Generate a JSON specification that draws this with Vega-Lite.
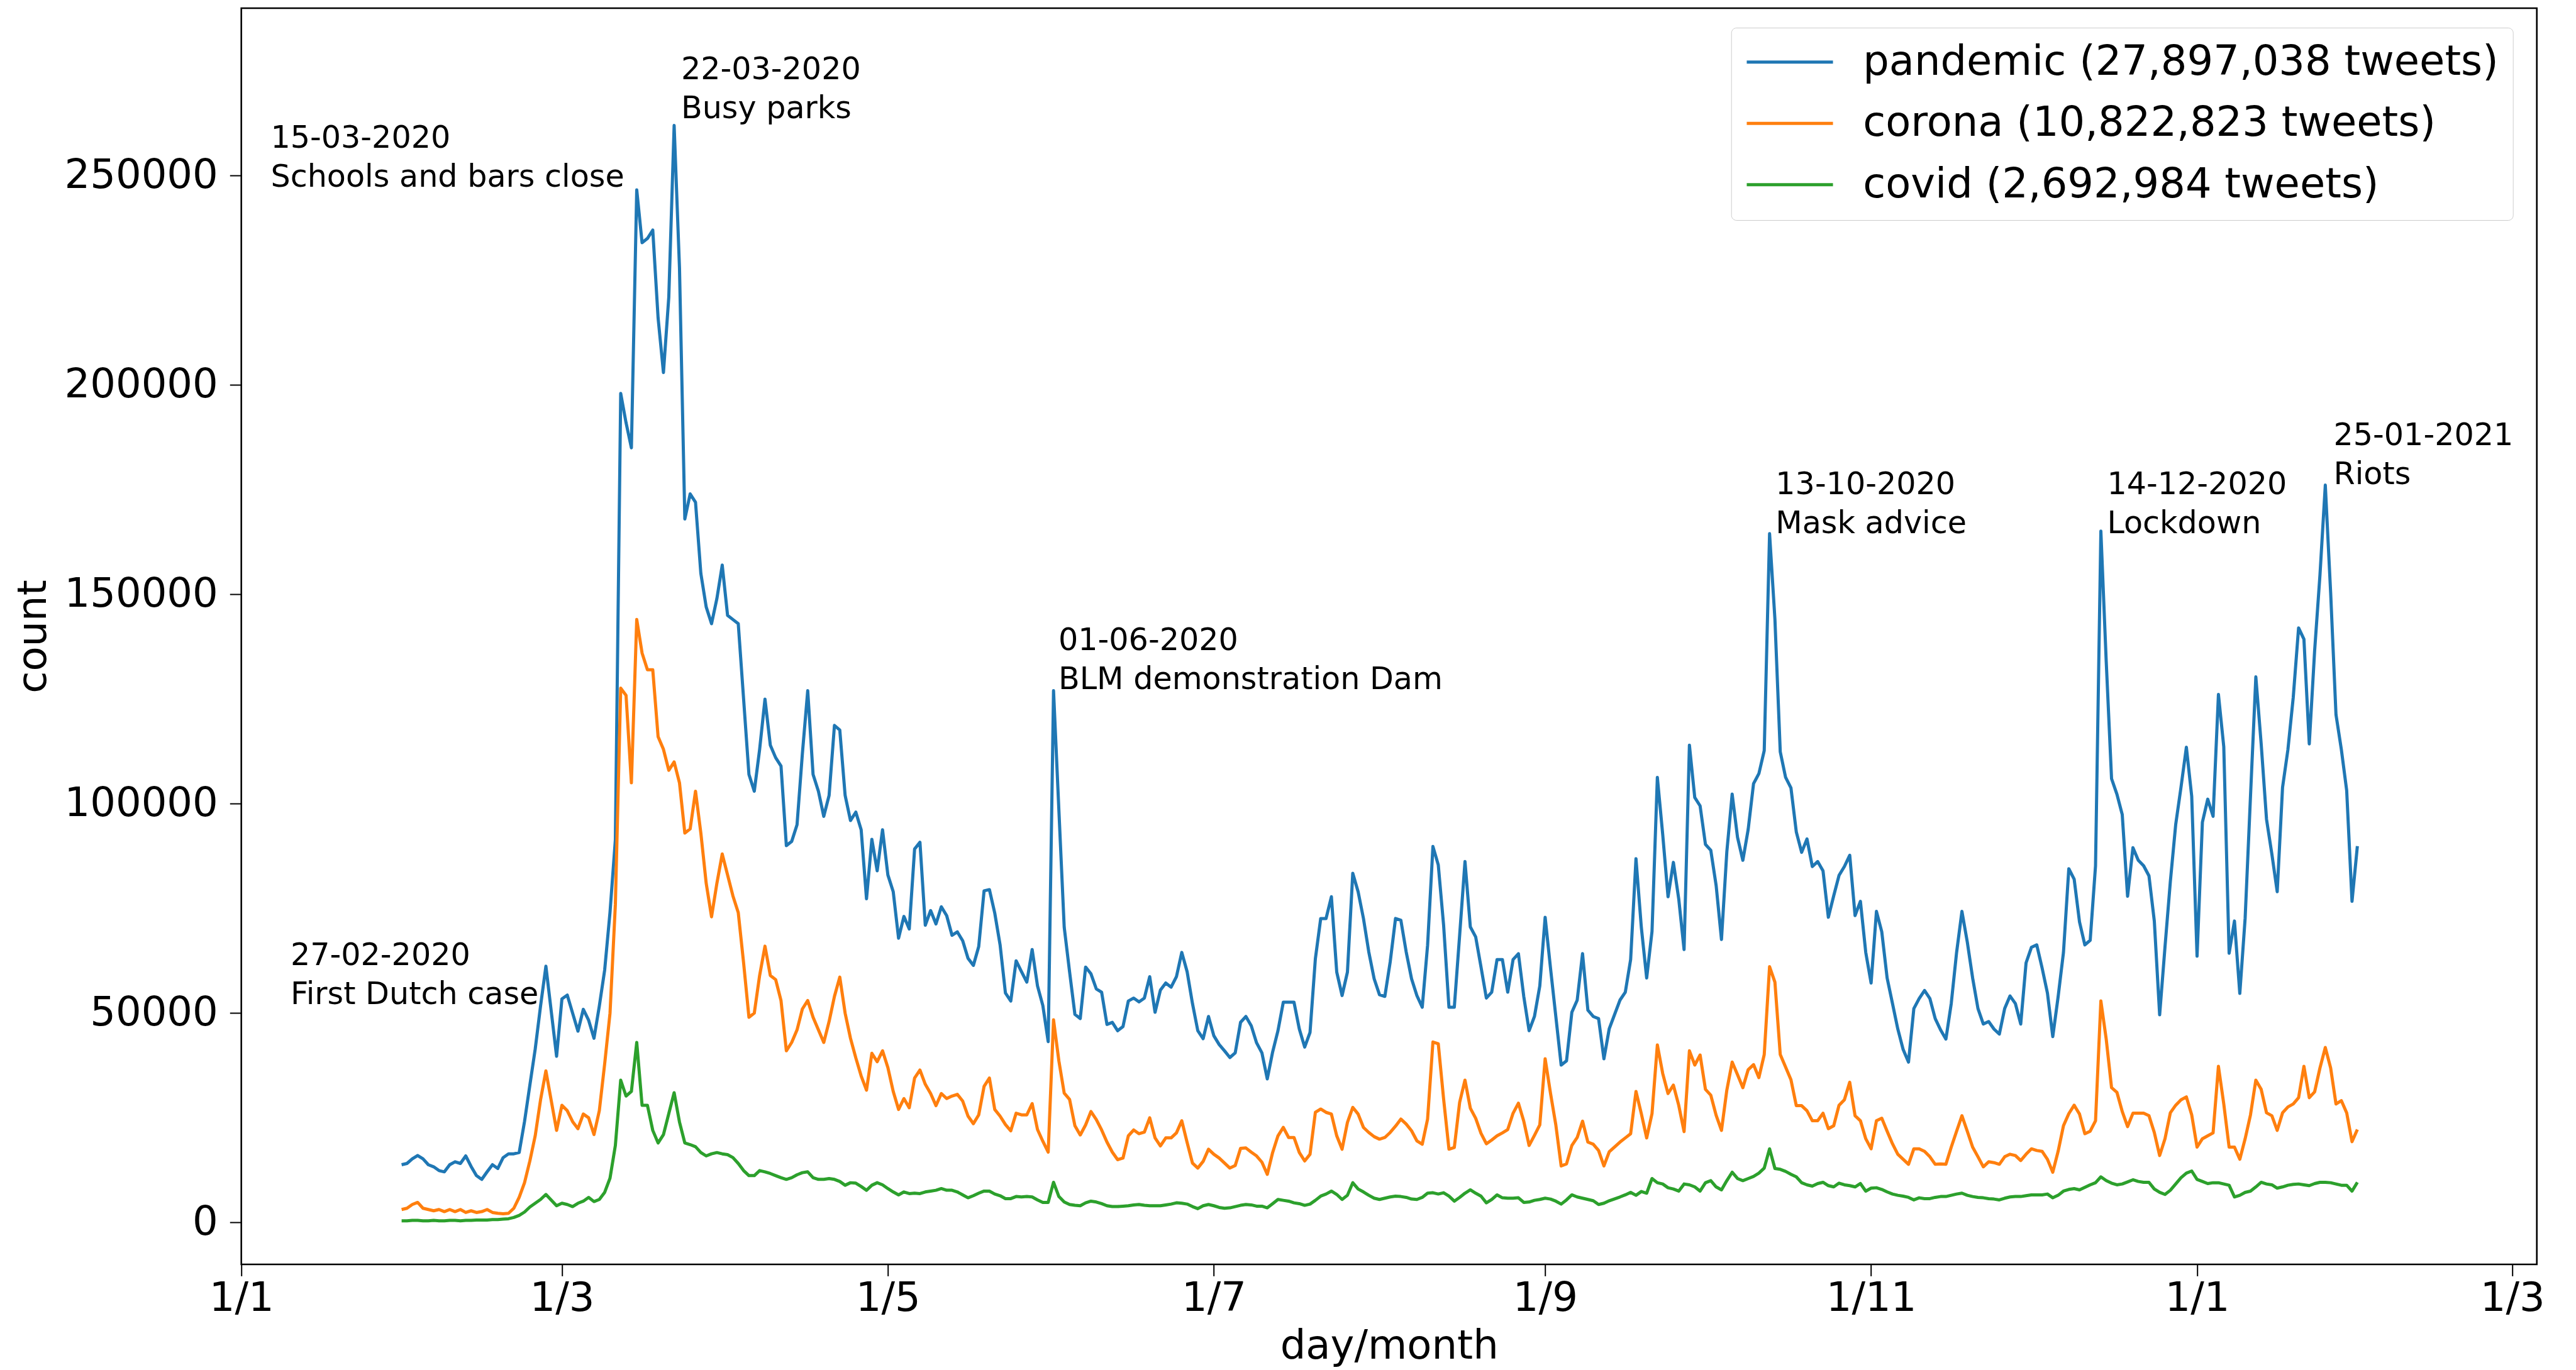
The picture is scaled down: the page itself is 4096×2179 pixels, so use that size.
{
"$schema": "https://vega.github.io/schema/vega-lite/v6.json",
"width": 3650,
"height": 1998,
"autosize": {"type": "none"},
"padding": {"left": 383.7, "top": 13, "right": 62.3, "bottom": 168},
"background": "white",
"config": {
  "view": {"stroke": "black", "strokeWidth": 2.6},
  "font": "DejaVu Sans",
  "axis": {"grid": false, "domain": false, "tickColor": "black", "tickWidth": 2, "tickSize": 18.4, "labelFont": "DejaVu Sans", "labelFontSize": 64, "labelColor": "black", "labelLimit": 2000, "titleFont": "DejaVu Sans", "titleFontSize": 64, "titleFontWeight": "normal", "titleColor": "black", "labelOverlap": false, "labelFlush": false, "labelBound": false}
},
"datasets": {
"tweets": [
{"date":"2020-01-31","pandemic":13800,"corona":3100,"covid":400},
{"date":"2020-02-01","pandemic":14100,"corona":3400,"covid":400},
{"date":"2020-02-02","pandemic":15200,"corona":4300,"covid":500},
{"date":"2020-02-03","pandemic":16000,"corona":4800,"covid":500},
{"date":"2020-02-04","pandemic":15200,"corona":3400,"covid":400},
{"date":"2020-02-05","pandemic":13800,"corona":3100,"covid":400},
{"date":"2020-02-06","pandemic":13300,"corona":2800,"covid":500},
{"date":"2020-02-07","pandemic":12400,"corona":3100,"covid":400},
{"date":"2020-02-08","pandemic":12100,"corona":2600,"covid":400},
{"date":"2020-02-09","pandemic":13800,"corona":3100,"covid":500},
{"date":"2020-02-10","pandemic":14500,"corona":2600,"covid":500},
{"date":"2020-02-11","pandemic":14100,"corona":3100,"covid":400},
{"date":"2020-02-12","pandemic":15900,"corona":2400,"covid":500},
{"date":"2020-02-13","pandemic":13400,"corona":2800,"covid":500},
{"date":"2020-02-14","pandemic":11200,"corona":2400,"covid":600},
{"date":"2020-02-15","pandemic":10300,"corona":2600,"covid":600},
{"date":"2020-02-16","pandemic":12100,"corona":3100,"covid":600},
{"date":"2020-02-17","pandemic":13800,"corona":2400,"covid":700},
{"date":"2020-02-18","pandemic":12900,"corona":2200,"covid":700},
{"date":"2020-02-19","pandemic":15500,"corona":2100,"covid":800},
{"date":"2020-02-20","pandemic":16400,"corona":2200,"covid":900},
{"date":"2020-02-21","pandemic":16400,"corona":3400,"covid":1200},
{"date":"2020-02-22","pandemic":16700,"corona":6000,"covid":1700},
{"date":"2020-02-23","pandemic":24100,"corona":9500,"covid":2500},
{"date":"2020-02-24","pandemic":32800,"corona":14700,"covid":3700},
{"date":"2020-02-25","pandemic":41400,"corona":20700,"covid":4600},
{"date":"2020-02-26","pandemic":51700,"corona":29300,"covid":5500},
{"date":"2020-02-27","pandemic":61200,"corona":36200,"covid":6700},
{"date":"2020-02-29","pandemic":39700,"corona":22000,"covid":4000},
{"date":"2020-03-01","pandemic":53400,"corona":28000,"covid":4600},
{"date":"2020-03-02","pandemic":54300,"corona":26700,"covid":4300},
{"date":"2020-03-03","pandemic":50000,"corona":24100,"covid":3800},
{"date":"2020-03-04","pandemic":45700,"corona":22400,"covid":4600},
{"date":"2020-03-05","pandemic":50900,"corona":25900,"covid":5100},
{"date":"2020-03-06","pandemic":48300,"corona":25000,"covid":6000},
{"date":"2020-03-07","pandemic":44000,"corona":21000,"covid":5000},
{"date":"2020-03-08","pandemic":51700,"corona":26700,"covid":5500},
{"date":"2020-03-09","pandemic":60300,"corona":37900,"covid":7200},
{"date":"2020-03-10","pandemic":74100,"corona":50000,"covid":10600},
{"date":"2020-03-11","pandemic":91400,"corona":75900,"covid":18400},
{"date":"2020-03-12","pandemic":198000,"corona":127600,"covid":34000},
{"date":"2020-03-13","pandemic":191000,"corona":125900,"covid":30200},
{"date":"2020-03-14","pandemic":185000,"corona":105000,"covid":31300},
{"date":"2020-03-15","pandemic":246600,"corona":144000,"covid":43000},
{"date":"2020-03-16","pandemic":234000,"corona":136000,"covid":28000},
{"date":"2020-03-17","pandemic":235000,"corona":132000,"covid":28000},
{"date":"2020-03-18","pandemic":237000,"corona":132000,"covid":22000},
{"date":"2020-03-19","pandemic":216000,"corona":116000,"covid":19000},
{"date":"2020-03-20","pandemic":203000,"corona":113000,"covid":21000},
{"date":"2020-03-21","pandemic":221000,"corona":108000,"covid":26000},
{"date":"2020-03-22","pandemic":262000,"corona":110000,"covid":31000},
{"date":"2020-03-23","pandemic":228000,"corona":105000,"covid":24000},
{"date":"2020-03-24","pandemic":168000,"corona":93000,"covid":19000},
{"date":"2020-03-25","pandemic":174000,"corona":94000,"covid":18600},
{"date":"2020-03-26","pandemic":172000,"corona":103000,"covid":18100},
{"date":"2020-03-27","pandemic":155000,"corona":93000,"covid":16700},
{"date":"2020-03-28","pandemic":147000,"corona":81000,"covid":15900},
{"date":"2020-03-29","pandemic":143000,"corona":73000,"covid":16400},
{"date":"2020-03-30","pandemic":149000,"corona":81000,"covid":16700},
{"date":"2020-03-31","pandemic":157000,"corona":88000,"covid":16400},
{"date":"2020-04-01","pandemic":145000,"corona":83000,"covid":16200},
{"date":"2020-04-02","pandemic":144000,"corona":78000,"covid":15500},
{"date":"2020-04-03","pandemic":143000,"corona":74000,"covid":14100},
{"date":"2020-04-04","pandemic":125000,"corona":62000,"covid":12400},
{"date":"2020-04-05","pandemic":107000,"corona":49000,"covid":11200},
{"date":"2020-04-06","pandemic":103000,"corona":50000,"covid":11200},
{"date":"2020-04-07","pandemic":113000,"corona":59000,"covid":12400},
{"date":"2020-04-08","pandemic":125000,"corona":66000,"covid":12100},
{"date":"2020-04-09","pandemic":114000,"corona":59000,"covid":11700},
{"date":"2020-04-10","pandemic":111000,"corona":58000,"covid":11200},
{"date":"2020-04-11","pandemic":109000,"corona":53000,"covid":10700},
{"date":"2020-04-12","pandemic":90000,"corona":41000,"covid":10300},
{"date":"2020-04-13","pandemic":91000,"corona":43000,"covid":10700},
{"date":"2020-04-14","pandemic":95000,"corona":46000,"covid":11400},
{"date":"2020-04-15","pandemic":112000,"corona":51000,"covid":11900},
{"date":"2020-04-16","pandemic":127000,"corona":53000,"covid":12100},
{"date":"2020-04-17","pandemic":107000,"corona":49000,"covid":10700},
{"date":"2020-04-18","pandemic":103000,"corona":46000,"covid":10300},
{"date":"2020-04-19","pandemic":97000,"corona":43000,"covid":10300},
{"date":"2020-04-20","pandemic":102000,"corona":48000,"covid":10500},
{"date":"2020-04-21","pandemic":118700,"corona":54000,"covid":10300},
{"date":"2020-04-22","pandemic":117600,"corona":58600,"covid":9800},
{"date":"2020-04-23","pandemic":102000,"corona":50000,"covid":8900},
{"date":"2020-04-24","pandemic":96000,"corona":44000,"covid":9500},
{"date":"2020-04-25","pandemic":98000,"corona":39300,"covid":9400},
{"date":"2020-04-26","pandemic":93800,"corona":35000,"covid":8600},
{"date":"2020-04-27","pandemic":77300,"corona":31600,"covid":7700},
{"date":"2020-04-28","pandemic":91500,"corona":40400,"covid":8900},
{"date":"2020-04-29","pandemic":84000,"corona":38400,"covid":9500},
{"date":"2020-04-30","pandemic":93800,"corona":41000,"covid":9000},
{"date":"2020-05-01","pandemic":83000,"corona":37000,"covid":8100},
{"date":"2020-05-02","pandemic":79000,"corona":31300,"covid":7300},
{"date":"2020-05-03","pandemic":67900,"corona":27000,"covid":6600},
{"date":"2020-05-04","pandemic":73100,"corona":29600,"covid":7300},
{"date":"2020-05-05","pandemic":70100,"corona":27400,"covid":6900},
{"date":"2020-05-06","pandemic":89200,"corona":34500,"covid":7000},
{"date":"2020-05-07","pandemic":90800,"corona":36400,"covid":6900},
{"date":"2020-05-08","pandemic":71000,"corona":33000,"covid":7300},
{"date":"2020-05-09","pandemic":74500,"corona":30800,"covid":7500},
{"date":"2020-05-10","pandemic":71300,"corona":27900,"covid":7700},
{"date":"2020-05-11","pandemic":75400,"corona":30800,"covid":8100},
{"date":"2020-05-12","pandemic":73300,"corona":29600,"covid":7700},
{"date":"2020-05-13","pandemic":68600,"corona":30200,"covid":7700},
{"date":"2020-05-14","pandemic":69400,"corona":30600,"covid":7300},
{"date":"2020-05-15","pandemic":67300,"corona":29000,"covid":6600},
{"date":"2020-05-16","pandemic":63100,"corona":25400,"covid":5900},
{"date":"2020-05-17","pandemic":61400,"corona":23600,"covid":6400},
{"date":"2020-05-18","pandemic":65900,"corona":25700,"covid":7000},
{"date":"2020-05-19","pandemic":79200,"corona":32500,"covid":7500},
{"date":"2020-05-20","pandemic":79500,"corona":34500,"covid":7500},
{"date":"2020-05-21","pandemic":73900,"corona":27000,"covid":6800},
{"date":"2020-05-22","pandemic":66300,"corona":25400,"covid":6400},
{"date":"2020-05-23","pandemic":54800,"corona":23400,"covid":5700},
{"date":"2020-05-24","pandemic":52900,"corona":21900,"covid":5700},
{"date":"2020-05-25","pandemic":62500,"corona":26100,"covid":6200},
{"date":"2020-05-26","pandemic":59900,"corona":25700,"covid":6100},
{"date":"2020-05-27","pandemic":57400,"corona":25700,"covid":6200},
{"date":"2020-05-28","pandemic":65200,"corona":28400,"covid":6100},
{"date":"2020-05-29","pandemic":56500,"corona":22200,"covid":5400},
{"date":"2020-05-30","pandemic":51800,"corona":19400,"covid":4800},
{"date":"2020-05-31","pandemic":43200,"corona":16800,"covid":4800},
{"date":"2020-06-01","pandemic":127000,"corona":48400,"covid":9600},
{"date":"2020-06-02","pandemic":98500,"corona":38600,"covid":6200},
{"date":"2020-06-03","pandemic":70500,"corona":30900,"covid":4900},
{"date":"2020-06-04","pandemic":59900,"corona":29400,"covid":4300},
{"date":"2020-06-05","pandemic":49700,"corona":23100,"covid":4100},
{"date":"2020-06-06","pandemic":48700,"corona":20900,"covid":4000},
{"date":"2020-06-07","pandemic":61000,"corona":23300,"covid":4700},
{"date":"2020-06-08","pandemic":59400,"corona":26500,"covid":5100},
{"date":"2020-06-09","pandemic":55800,"corona":24600,"covid":4900},
{"date":"2020-06-10","pandemic":55000,"corona":22100,"covid":4500},
{"date":"2020-06-11","pandemic":47300,"corona":19200,"covid":4000},
{"date":"2020-06-12","pandemic":47800,"corona":16800,"covid":3800},
{"date":"2020-06-13","pandemic":45800,"corona":15000,"covid":3800},
{"date":"2020-06-14","pandemic":46800,"corona":15400,"covid":3900},
{"date":"2020-06-15","pandemic":52900,"corona":20700,"covid":4000},
{"date":"2020-06-16","pandemic":53600,"corona":22100,"covid":4200},
{"date":"2020-06-17","pandemic":52700,"corona":21200,"covid":4300},
{"date":"2020-06-18","pandemic":53600,"corona":21600,"covid":4100},
{"date":"2020-06-19","pandemic":58700,"corona":25000,"covid":4000},
{"date":"2020-06-20","pandemic":50200,"corona":20200,"covid":4000},
{"date":"2020-06-21","pandemic":55500,"corona":18300,"covid":4000},
{"date":"2020-06-22","pandemic":57200,"corona":20200,"covid":4200},
{"date":"2020-06-23","pandemic":56200,"corona":20200,"covid":4400},
{"date":"2020-06-24","pandemic":58700,"corona":21400,"covid":4700},
{"date":"2020-06-25","pandemic":64500,"corona":24300,"covid":4600},
{"date":"2020-06-26","pandemic":59900,"corona":19100,"covid":4400},
{"date":"2020-06-27","pandemic":52300,"corona":14200,"covid":3800},
{"date":"2020-06-28","pandemic":45800,"corona":13000,"covid":3300},
{"date":"2020-06-29","pandemic":43900,"corona":14600,"covid":4000},
{"date":"2020-06-30","pandemic":49200,"corona":17500,"covid":4300},
{"date":"2020-07-01","pandemic":44600,"corona":16300,"covid":4000},
{"date":"2020-07-02","pandemic":42500,"corona":15400,"covid":3600},
{"date":"2020-07-03","pandemic":41000,"corona":14200,"covid":3400},
{"date":"2020-07-04","pandemic":39400,"corona":13000,"covid":3500},
{"date":"2020-07-05","pandemic":40500,"corona":13600,"covid":3800},
{"date":"2020-07-06","pandemic":47800,"corona":17700,"covid":4100},
{"date":"2020-07-07","pandemic":49200,"corona":17800,"covid":4300},
{"date":"2020-07-08","pandemic":47000,"corona":16800,"covid":4200},
{"date":"2020-07-09","pandemic":42900,"corona":15900,"covid":3900},
{"date":"2020-07-10","pandemic":40500,"corona":14400,"covid":3900},
{"date":"2020-07-11","pandemic":34300,"corona":11500,"covid":3500},
{"date":"2020-07-12","pandemic":40700,"corona":16700,"covid":4500},
{"date":"2020-07-13","pandemic":45800,"corona":20700,"covid":5500},
{"date":"2020-07-14","pandemic":52600,"corona":22700,"covid":5300},
{"date":"2020-07-15","pandemic":52600,"corona":20300,"covid":5100},
{"date":"2020-07-16","pandemic":52600,"corona":20300,"covid":4700},
{"date":"2020-07-17","pandemic":46200,"corona":16700,"covid":4500},
{"date":"2020-07-18","pandemic":41900,"corona":14700,"covid":4100},
{"date":"2020-07-19","pandemic":45400,"corona":16300,"covid":4400},
{"date":"2020-07-20","pandemic":63000,"corona":26300,"covid":5300},
{"date":"2020-07-21","pandemic":72600,"corona":27100,"covid":6300},
{"date":"2020-07-22","pandemic":72600,"corona":26300,"covid":6800},
{"date":"2020-07-23","pandemic":77800,"corona":25900,"covid":7500},
{"date":"2020-07-24","pandemic":59800,"corona":20700,"covid":6700},
{"date":"2020-07-25","pandemic":54200,"corona":17500,"covid":5500},
{"date":"2020-07-26","pandemic":59800,"corona":23900,"covid":6500},
{"date":"2020-07-27","pandemic":83400,"corona":27500,"covid":9500},
{"date":"2020-07-28","pandemic":79000,"corona":25900,"covid":8000},
{"date":"2020-07-29","pandemic":72600,"corona":22700,"covid":7300},
{"date":"2020-07-30","pandemic":64600,"corona":21500,"covid":6500},
{"date":"2020-07-31","pandemic":58200,"corona":20500,"covid":5800},
{"date":"2020-08-01","pandemic":54400,"corona":19900,"covid":5500},
{"date":"2020-08-02","pandemic":54000,"corona":20300,"covid":5800},
{"date":"2020-08-03","pandemic":62200,"corona":21500,"covid":6100},
{"date":"2020-08-04","pandemic":72600,"corona":23000,"covid":6300},
{"date":"2020-08-05","pandemic":72200,"corona":24700,"covid":6200},
{"date":"2020-08-06","pandemic":64600,"corona":23500,"covid":6000},
{"date":"2020-08-07","pandemic":58200,"corona":21900,"covid":5600},
{"date":"2020-08-08","pandemic":54200,"corona":19500,"covid":5500},
{"date":"2020-08-09","pandemic":51400,"corona":18700,"covid":6000},
{"date":"2020-08-10","pandemic":66200,"corona":24700,"covid":7000},
{"date":"2020-08-11","pandemic":89800,"corona":43100,"covid":7100},
{"date":"2020-08-12","pandemic":85400,"corona":42700,"covid":6800},
{"date":"2020-08-13","pandemic":71000,"corona":29500,"covid":7100},
{"date":"2020-08-14","pandemic":51400,"corona":17500,"covid":6300},
{"date":"2020-08-15","pandemic":51400,"corona":17900,"covid":5100},
{"date":"2020-08-16","pandemic":68600,"corona":28700,"covid":6000},
{"date":"2020-08-17","pandemic":86200,"corona":34000,"covid":7000},
{"date":"2020-08-18","pandemic":70600,"corona":27300,"covid":7800},
{"date":"2020-08-19","pandemic":68200,"corona":24900,"covid":7000},
{"date":"2020-08-20","pandemic":61000,"corona":21300,"covid":6300},
{"date":"2020-08-21","pandemic":53600,"corona":18800,"covid":4700},
{"date":"2020-08-22","pandemic":55000,"corona":19700,"covid":5500},
{"date":"2020-08-23","pandemic":62800,"corona":20700,"covid":6600},
{"date":"2020-08-24","pandemic":62800,"corona":21400,"covid":5900},
{"date":"2020-08-25","pandemic":55000,"corona":22200,"covid":5800},
{"date":"2020-08-26","pandemic":62800,"corona":26100,"covid":5800},
{"date":"2020-08-27","pandemic":64200,"corona":28500,"covid":5900},
{"date":"2020-08-28","pandemic":54000,"corona":24200,"covid":4800},
{"date":"2020-08-29","pandemic":45800,"corona":18400,"covid":4900},
{"date":"2020-08-30","pandemic":49200,"corona":20800,"covid":5300},
{"date":"2020-08-31","pandemic":56500,"corona":23300,"covid":5500},
{"date":"2020-09-01","pandemic":72900,"corona":39100,"covid":5800},
{"date":"2020-09-02","pandemic":60800,"corona":30900,"covid":5600},
{"date":"2020-09-03","pandemic":49200,"corona":23300,"covid":5100},
{"date":"2020-09-04","pandemic":37600,"corona":13500,"covid":4400},
{"date":"2020-09-05","pandemic":38600,"corona":14000,"covid":5400},
{"date":"2020-09-06","pandemic":50200,"corona":18400,"covid":6600},
{"date":"2020-09-07","pandemic":53100,"corona":20300,"covid":6100},
{"date":"2020-09-08","pandemic":64200,"corona":24200,"covid":5800},
{"date":"2020-09-09","pandemic":50700,"corona":19200,"covid":5500},
{"date":"2020-09-10","pandemic":49200,"corona":18700,"covid":5200},
{"date":"2020-09-11","pandemic":48700,"corona":17200,"covid":4300},
{"date":"2020-09-12","pandemic":39100,"corona":13500,"covid":4600},
{"date":"2020-09-13","pandemic":46300,"corona":16900,"covid":5200},
{"date":"2020-09-15","pandemic":53100,"corona":19200,"covid":6100},
{"date":"2020-09-16","pandemic":55000,"corona":20200,"covid":6600},
{"date":"2020-09-17","pandemic":62800,"corona":21200,"covid":7200},
{"date":"2020-09-18","pandemic":86900,"corona":31300,"covid":6500},
{"date":"2020-09-19","pandemic":70500,"corona":26000,"covid":7400},
{"date":"2020-09-20","pandemic":58400,"corona":20200,"covid":7000},
{"date":"2020-09-21","pandemic":69500,"corona":26000,"covid":10500},
{"date":"2020-09-22","pandemic":106300,"corona":42400,"covid":9500},
{"date":"2020-09-23","pandemic":92700,"corona":35600,"covid":9200},
{"date":"2020-09-24","pandemic":77800,"corona":30800,"covid":8300},
{"date":"2020-09-25","pandemic":86000,"corona":32800,"covid":8000},
{"date":"2020-09-26","pandemic":77300,"corona":28000,"covid":7500},
{"date":"2020-09-27","pandemic":65200,"corona":21700,"covid":9200},
{"date":"2020-09-28","pandemic":114000,"corona":41000,"covid":9000},
{"date":"2020-09-29","pandemic":101500,"corona":37600,"covid":8500},
{"date":"2020-09-30","pandemic":99500,"corona":40000,"covid":7500},
{"date":"2020-10-01","pandemic":90300,"corona":31800,"covid":9500},
{"date":"2020-10-02","pandemic":88900,"corona":30400,"covid":10000},
{"date":"2020-10-03","pandemic":80500,"corona":25600,"covid":8500},
{"date":"2020-10-04","pandemic":67600,"corona":22000,"covid":7800},
{"date":"2020-10-05","pandemic":88500,"corona":31600,"covid":10000},
{"date":"2020-10-06","pandemic":102300,"corona":38300,"covid":12000},
{"date":"2020-10-07","pandemic":92000,"corona":35300,"covid":10500},
{"date":"2020-10-08","pandemic":86500,"corona":32200,"covid":10000},
{"date":"2020-10-09","pandemic":93900,"corona":36500,"covid":10500},
{"date":"2020-10-10","pandemic":104800,"corona":37700,"covid":11000},
{"date":"2020-10-11","pandemic":107200,"corona":34600,"covid":11800},
{"date":"2020-10-12","pandemic":112700,"corona":40100,"covid":13000},
{"date":"2020-10-13","pandemic":164500,"corona":61100,"covid":17600},
{"date":"2020-10-14","pandemic":144100,"corona":57400,"covid":12900},
{"date":"2020-10-15","pandemic":112400,"corona":40100,"covid":12700},
{"date":"2020-10-16","pandemic":106300,"corona":37100,"covid":12200},
{"date":"2020-10-17","pandemic":103800,"corona":34100,"covid":11500},
{"date":"2020-10-18","pandemic":93300,"corona":27900,"covid":10900},
{"date":"2020-10-19","pandemic":88400,"corona":27900,"covid":9500},
{"date":"2020-10-20","pandemic":91600,"corona":26700,"covid":9000},
{"date":"2020-10-21","pandemic":85000,"corona":24300,"covid":8700},
{"date":"2020-10-22","pandemic":86200,"corona":24300,"covid":9300},
{"date":"2020-10-23","pandemic":84000,"corona":26100,"covid":9600},
{"date":"2020-10-24","pandemic":72900,"corona":22400,"covid":8800},
{"date":"2020-10-25","pandemic":78000,"corona":23100,"covid":8500},
{"date":"2020-10-26","pandemic":82900,"corona":28000,"covid":9400},
{"date":"2020-10-27","pandemic":85000,"corona":29300,"covid":9000},
{"date":"2020-10-28","pandemic":87700,"corona":33500,"covid":8800},
{"date":"2020-10-29","pandemic":73300,"corona":25500,"covid":8500},
{"date":"2020-10-30","pandemic":76700,"corona":24300,"covid":9300},
{"date":"2020-10-31","pandemic":64500,"corona":20000,"covid":7500},
{"date":"2020-11-01","pandemic":57200,"corona":17600,"covid":8200},
{"date":"2020-11-02","pandemic":74300,"corona":24300,"covid":8300},
{"date":"2020-11-03","pandemic":69400,"corona":24900,"covid":7900},
{"date":"2020-11-04","pandemic":58400,"corona":21800,"covid":7300},
{"date":"2020-11-05","pandemic":52300,"corona":18800,"covid":6800},
{"date":"2020-11-06","pandemic":46200,"corona":16300,"covid":6500},
{"date":"2020-11-07","pandemic":41300,"corona":15100,"covid":6300},
{"date":"2020-11-08","pandemic":38300,"corona":13900,"covid":6000},
{"date":"2020-11-09","pandemic":51100,"corona":17600,"covid":5400},
{"date":"2020-11-10","pandemic":53500,"corona":17600,"covid":5900},
{"date":"2020-11-11","pandemic":55400,"corona":17000,"covid":5700},
{"date":"2020-11-12","pandemic":53500,"corona":15700,"covid":5700},
{"date":"2020-11-13","pandemic":48700,"corona":13900,"covid":6000},
{"date":"2020-11-14","pandemic":46000,"corona":14000,"covid":6200},
{"date":"2020-11-15","pandemic":43800,"corona":13900,"covid":6200},
{"date":"2020-11-16","pandemic":52300,"corona":18000,"covid":6500},
{"date":"2020-11-17","pandemic":64500,"corona":21800,"covid":6800},
{"date":"2020-11-18","pandemic":74300,"corona":25500,"covid":7000},
{"date":"2020-11-19","pandemic":67000,"corona":21800,"covid":6500},
{"date":"2020-11-20","pandemic":58400,"corona":18000,"covid":6200},
{"date":"2020-11-21","pandemic":51100,"corona":15700,"covid":6000},
{"date":"2020-11-22","pandemic":47400,"corona":13300,"covid":5900},
{"date":"2020-11-23","pandemic":48000,"corona":14500,"covid":5700},
{"date":"2020-11-24","pandemic":46200,"corona":14300,"covid":5600},
{"date":"2020-11-25","pandemic":45000,"corona":13900,"covid":5400},
{"date":"2020-11-26","pandemic":51100,"corona":15700,"covid":5800},
{"date":"2020-11-27","pandemic":54100,"corona":16300,"covid":6100},
{"date":"2020-11-28","pandemic":52300,"corona":16000,"covid":6200},
{"date":"2020-11-29","pandemic":47400,"corona":14800,"covid":6200},
{"date":"2020-11-30","pandemic":62000,"corona":16300,"covid":6400},
{"date":"2020-12-01","pandemic":65700,"corona":17600,"covid":6600},
{"date":"2020-12-02","pandemic":66300,"corona":17200,"covid":6600},
{"date":"2020-12-03","pandemic":60800,"corona":17000,"covid":6600},
{"date":"2020-12-04","pandemic":54800,"corona":15100,"covid":6800},
{"date":"2020-12-05","pandemic":44400,"corona":12000,"covid":5900},
{"date":"2020-12-06","pandemic":53900,"corona":17000,"covid":6500},
{"date":"2020-12-07","pandemic":64500,"corona":23100,"covid":7500},
{"date":"2020-12-08","pandemic":84500,"corona":26000,"covid":7900},
{"date":"2020-12-09","pandemic":82000,"corona":28000,"covid":8100},
{"date":"2020-12-10","pandemic":71800,"corona":25900,"covid":7800},
{"date":"2020-12-11","pandemic":66300,"corona":21200,"covid":8400},
{"date":"2020-12-12","pandemic":67400,"corona":21800,"covid":9000},
{"date":"2020-12-13","pandemic":85200,"corona":24300,"covid":9500},
{"date":"2020-12-14","pandemic":165100,"corona":52900,"covid":10900},
{"date":"2020-12-15","pandemic":134000,"corona":43800,"covid":10000},
{"date":"2020-12-16","pandemic":106000,"corona":32200,"covid":9400},
{"date":"2020-12-17","pandemic":102300,"corona":31100,"covid":9000},
{"date":"2020-12-18","pandemic":97400,"corona":26500,"covid":9200},
{"date":"2020-12-19","pandemic":77900,"corona":22900,"covid":9700},
{"date":"2020-12-20","pandemic":89500,"corona":26100,"covid":10200},
{"date":"2020-12-21","pandemic":86500,"corona":26100,"covid":9800},
{"date":"2020-12-22","pandemic":85200,"corona":26100,"covid":9600},
{"date":"2020-12-23","pandemic":82800,"corona":25500,"covid":9600},
{"date":"2020-12-24","pandemic":72000,"corona":21500,"covid":8000},
{"date":"2020-12-25","pandemic":49600,"corona":16000,"covid":7200},
{"date":"2020-12-26","pandemic":65800,"corona":20000,"covid":6700},
{"date":"2020-12-27","pandemic":81400,"corona":26200,"covid":7700},
{"date":"2020-12-28","pandemic":95000,"corona":28000,"covid":9200},
{"date":"2020-12-29","pandemic":104000,"corona":29300,"covid":10700},
{"date":"2020-12-30","pandemic":113500,"corona":30000,"covid":11800},
{"date":"2020-12-31","pandemic":101800,"corona":25700,"covid":12300},
{"date":"2021-01-01","pandemic":63600,"corona":18000,"covid":10300},
{"date":"2021-01-02","pandemic":95600,"corona":20000,"covid":9800},
{"date":"2021-01-03","pandemic":101100,"corona":20700,"covid":9300},
{"date":"2021-01-04","pandemic":97000,"corona":21400,"covid":9500},
{"date":"2021-01-05","pandemic":126100,"corona":37300,"covid":9500},
{"date":"2021-01-06","pandemic":113600,"corona":28300,"covid":9200},
{"date":"2021-01-07","pandemic":64300,"corona":18000,"covid":8900},
{"date":"2021-01-08","pandemic":72000,"corona":18000,"covid":6100},
{"date":"2021-01-09","pandemic":54700,"corona":15100,"covid":6500},
{"date":"2021-01-10","pandemic":72700,"corona":20000,"covid":7200},
{"date":"2021-01-11","pandemic":101800,"corona":25700,"covid":7500},
{"date":"2021-01-12","pandemic":130300,"corona":34000,"covid":8500},
{"date":"2021-01-13","pandemic":114300,"corona":31800,"covid":9600},
{"date":"2021-01-14","pandemic":96300,"corona":26200,"covid":9200},
{"date":"2021-01-15","pandemic":88000,"corona":25500,"covid":9000},
{"date":"2021-01-16","pandemic":79000,"corona":22000,"covid":8200},
{"date":"2021-01-17","pandemic":103900,"corona":26200,"covid":8500},
{"date":"2021-01-18","pandemic":112900,"corona":27600,"covid":8900},
{"date":"2021-01-19","pandemic":125400,"corona":28300,"covid":9100},
{"date":"2021-01-20","pandemic":142000,"corona":29800,"covid":9200},
{"date":"2021-01-21","pandemic":139300,"corona":37300,"covid":9000},
{"date":"2021-01-22","pandemic":114300,"corona":29800,"covid":8800},
{"date":"2021-01-23","pandemic":136500,"corona":31200,"covid":9300},
{"date":"2021-01-24","pandemic":154600,"corona":36900,"covid":9600},
{"date":"2021-01-25","pandemic":176100,"corona":41800,"covid":9600},
{"date":"2021-01-26","pandemic":150400,"corona":36900,"covid":9500},
{"date":"2021-01-27","pandemic":121300,"corona":28300,"covid":9200},
{"date":"2021-01-28","pandemic":113000,"corona":29100,"covid":8900},
{"date":"2021-01-29","pandemic":103200,"corona":26200,"covid":8900},
{"date":"2021-01-30","pandemic":76700,"corona":19300,"covid":7500},
{"date":"2021-01-31","pandemic":89900,"corona":22200,"covid":9600}
],
"notes": [
{"date":"2020-01-10T05:00:00Z","count":61500,"label":"27-02-2020\nFirst Dutch case"},
{"date":"2020-01-06T12:00:00Z","count":256700,"label":"15-03-2020\nSchools and bars close"},
{"date":"2020-03-23T07:00:00Z","count":273100,"label":"22-03-2020\nBusy parks"},
{"date":"2020-06-01T22:00:00Z","count":136700,"label":"01-06-2020\nBLM demonstration Dam"},
{"date":"2020-10-14T03:00:00Z","count":174000,"label":"13-10-2020\nMask advice"},
{"date":"2020-12-15T04:00:00Z","count":174000,"label":"14-12-2020\nLockdown"},
{"date":"2021-01-26T13:00:00Z","count":185700,"label":"25-01-2021\nRiots"}
]
},
"layer": [
{
  "data": {"name": "tweets"},
  "transform": [{"fold": ["pandemic", "corona", "covid"], "as": ["term", "count"]}],
  "mark": {"type": "line", "strokeWidth": 5, "strokeJoin": "round", "clip": true},
  "encoding": {
    "x": {"field": "date", "type": "temporal",
      "scale": {"type": "utc", "nice": false, "domain": [{"year": 2020, "month": 1, "date": 1, "utc": true}, {"year": 2021, "month": 3, "date": 5, "hours": 14, "utc": true}]},
      "axis": {"title": "day/month", "labelExpr": "utcFormat(datum.value, '%-d/%-m')", "labelPadding": 4, "titlePadding": 12,
        "values": [{"year": 2020, "month": 1, "date": 1, "utc": true}, {"year": 2020, "month": 3, "date": 1, "utc": true}, {"year": 2020, "month": 5, "date": 1, "utc": true}, {"year": 2020, "month": 7, "date": 1, "utc": true}, {"year": 2020, "month": 9, "date": 1, "utc": true}, {"year": 2020, "month": 11, "date": 1, "utc": true}, {"year": 2021, "month": 1, "date": 1, "utc": true}, {"year": 2021, "month": 3, "date": 1, "utc": true}]}},
    "y": {"field": "count", "type": "quantitative",
      "scale": {"domain": [-10000, 290000], "nice": false, "zero": false},
      "axis": {"title": "count", "format": "d", "values": [0, 50000, 100000, 150000, 200000, 250000], "labelPadding": 19, "titlePadding": 98}},
    "color": {"field": "term", "type": "nominal",
      "scale": {"domain": ["pandemic", "corona", "covid"], "range": ["#1f77b4", "#ff7f0e", "#2ca02c"]},
      "legend": {"orient": "none", "legendX": 2369, "legendY": 31, "title": null, "symbolType": "M-1,0H3.57", "symbolSize": 3600, "symbolStrokeWidth": 5, "labelFont": "DejaVu Sans", "labelFontSize": 65.5, "labelColor": "black", "labelOffset": 122, "rowPadding": 30.5, "padding": 22, "fillColor": "rgba(255,255,255,0.8)", "strokeColor": "#cccccc", "cornerRadius": 8, "labelLimit": 4000,
        "labelExpr": "datum.label == 'pandemic' ? 'pandemic (27,897,038 tweets)' : datum.label == 'corona' ? 'corona (10,822,823 tweets)' : 'covid (2,692,984 tweets)'"}}
  }
},
{
  "data": {"name": "notes"},
  "mark": {"type": "text", "align": "left", "baseline": "alphabetic", "lineBreak": "\n", "font": "DejaVu Sans", "fontSize": 49.2, "lineHeight": 62, "color": "black"},
  "encoding": {
    "x": {"field": "date", "type": "temporal"},
    "y": {"field": "count", "type": "quantitative"},
    "text": {"field": "label"}
  }
}
]
}
